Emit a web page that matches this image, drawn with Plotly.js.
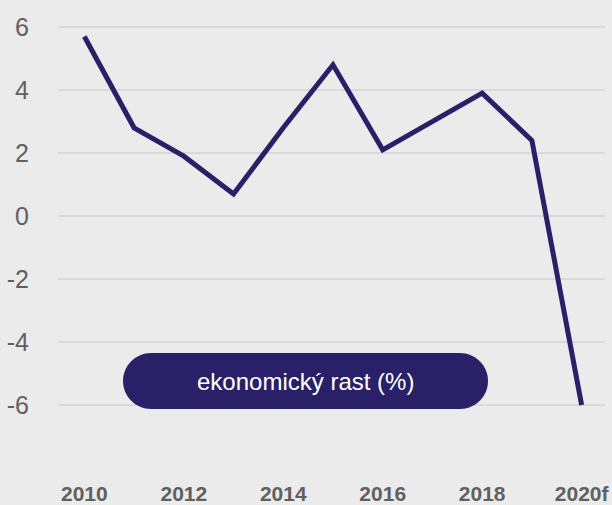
<!DOCTYPE html>
<html>
<head>
<meta charset="utf-8">
<script src="https://cdn.plot.ly/plotly-3.0.1.min.js"></script>
<style>html,body{margin:0;padding:0;background:#ebebeb;}#chart{width:612px;height:505px;}</style>
</head>
<body>
<div id="chart"></div>
<script>
const years = [2010, 2011, 2012, 2013, 2014, 2015, 2016, 2017, 2018, 2019, 2020];
const growth = [5.7, 2.8, 1.9, 0.7, 2.8, 4.8, 2.1, 3.0, 3.9, 2.4, -6.0];
const xTickVals = [2010, 2012, 2014, 2016, 2018, 2020];
const xTickText = ["2010", "2012", "2014", "2016", "2018", "2020f"];
const yTickVals = [-6, -4, -2, 0, 2, 4, 6];
const yTickText = ["-6", "-4", "-2", "0", "2", "4", "6"];
const legendLabel = "ekonomický rast (%)";

const FONT = "Liberation Sans, Arial, sans-serif";
const navy = "#2a2068";

const trace = {
  x: years, y: growth, type: "scatter", mode: "lines",
  line: {color: navy, width: 5},
  hoverinfo: "skip"
};

const hw = 182.5, hh = 28, r = 28, k = 0.5523 * r, fx = hw - r;
const pill = `M ${-fx},${-hh} L ${fx},${-hh} C ${fx + k},${-hh} ${hw},${-k} ${hw},0 C ${hw},${k} ${fx + k},${hh} ${fx},${hh} L ${-fx},${hh} C ${-fx - k},${hh} ${-hw},${k} ${-hw},0 C ${-hw},${-k} ${-fx - k},${-hh} ${-fx},${-hh} Z`;

const layout = {
  width: 612, height: 505,
  margin: {l: 58, r: 7, t: 10, b: 40},
  paper_bgcolor: "#ebebeb", plot_bgcolor: "#ebebeb",
  showlegend: false,
  font: {family: FONT},
  xaxis: {
    range: [2009.47, 2020.47],
    tickvals: xTickVals, ticktext: xTickText,
    showgrid: false, zeroline: false, showline: false, ticks: "",
    tickfont: {family: FONT, size: 21, color: "#606060", weight: "bold"},
    ticklabelstandoff: 14
  },
  yaxis: {
    range: [-7.905, 6.54],
    tickvals: yTickVals, ticktext: yTickText,
    showgrid: true, gridcolor: "#d9d9d9", gridwidth: 1.5,
    zeroline: false, showline: false, ticks: "",
    tickfont: {family: FONT, size: 25, color: "#606060"},
    ticklabelstandoff: 28
  },
  shapes: [{
    type: "path", xref: "paper", yref: "paper",
    xsizemode: "pixel", ysizemode: "pixel",
    xanchor: (305.5 - 58) / 547, yanchor: (465 - 381) / 455,
    path: pill, fillcolor: navy, line: {width: 0}, layer: "above"
  }],
  annotations: [{
    xref: "paper", yref: "paper",
    x: (305.5 - 58) / 547, y: (465 - 381) / 455,
    xanchor: "center", yanchor: "middle",
    text: legendLabel, showarrow: false,
    font: {family: FONT, size: 24, color: "#ffffff"}
  }]
};

Plotly.newPlot("chart", [trace], layout, {displayModeBar: false, staticPlot: true});
</script>
</body>
</html>
